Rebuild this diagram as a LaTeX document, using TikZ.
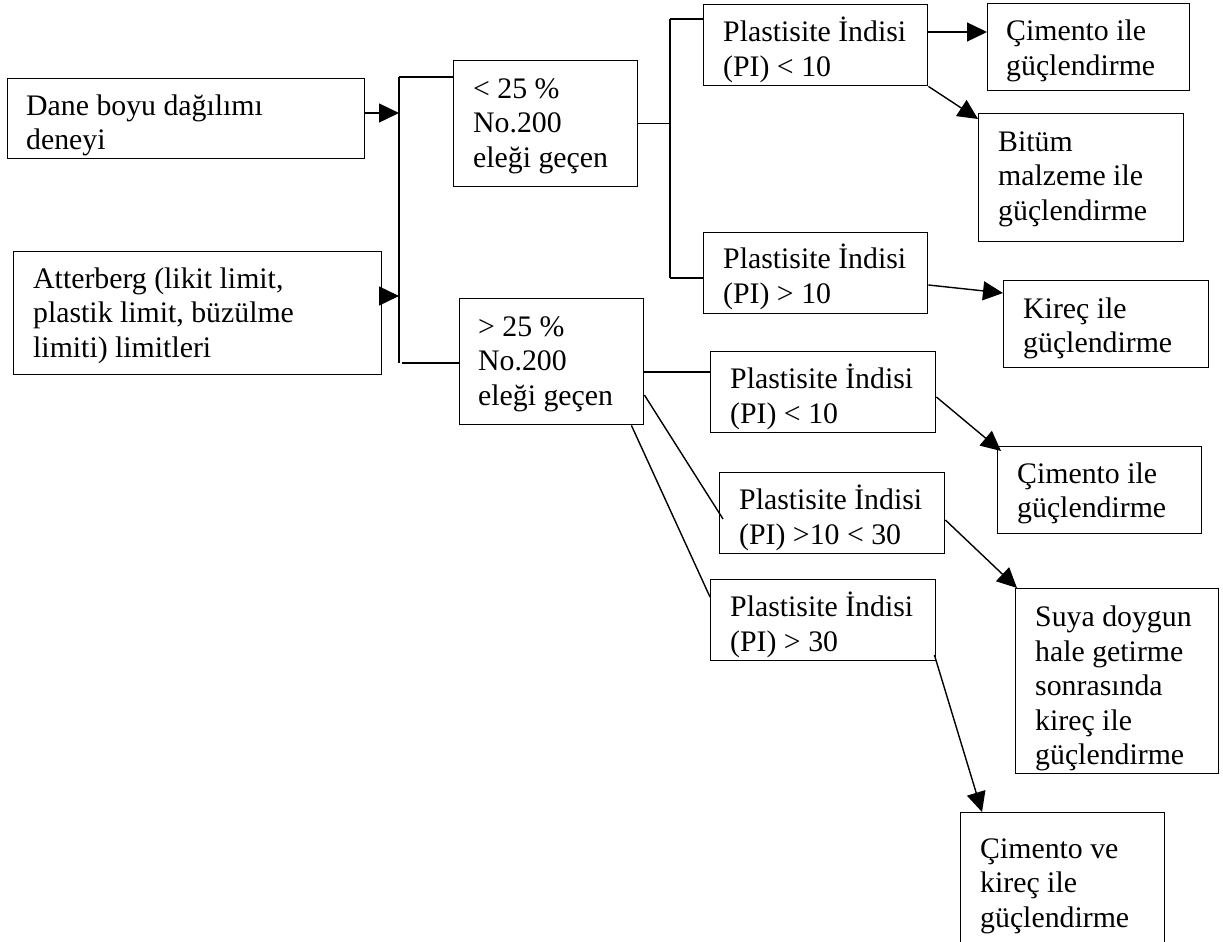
\documentclass[tikz,border=0pt]{standalone}
\usepackage{fontspec}
\setmainfont{Liberation Serif}
\usetikzlibrary{arrows.meta}
\tikzset{
  box/.style={draw, line width=1.4pt, inner sep=0pt, anchor=north west},
  txt/.style={anchor=north west, inner sep=0pt, align=left, font=\fontsize{29.8}{34.5}\selectfont},
  ln/.style={line width=1.4pt},
  arr/.style={line width=1.4pt, -{Triangle[length=20pt,width=19pt]}}
}
\newcommand{\fl}{\rule{0pt}{30pt}}
\begin{document}
\begin{tikzpicture}[x=1pt,y=-1pt]
\useasboundingbox (0,0) rectangle (1223,942);
\clip (0,0) rectangle (1223,942);
% boxes
\node[box, minimum width=357pt, minimum height=80pt]  (dane)  at (7,78) {};
\node[box, minimum width=368pt, minimum height=123pt] (att)   at (13,251) {};
\node[box, minimum width=184pt, minimum height=126pt] (lt25)  at (453,60) {};
\node[box, minimum width=184pt, minimum height=126pt] (gt25)  at (459,298) {};
\node[box, minimum width=224pt, minimum height=81pt]  (pi1)   at (703,4) {};
\node[box, minimum width=224pt, minimum height=81pt]  (pi2)   at (703,232) {};
\node[box, minimum width=225pt, minimum height=81pt]  (pi3)   at (710,351) {};
\node[box, minimum width=225pt, minimum height=81pt]  (pi4)   at (719,472) {};
\node[box, minimum width=225pt, minimum height=81pt]  (pi5)   at (710,579) {};
\node[box, minimum width=202pt, minimum height=87pt]  (cim1)  at (987,3) {};
\node[box, minimum width=205pt, minimum height=128pt] (bitum) at (978,113) {};
\node[box, minimum width=205pt, minimum height=87pt]  (kirec) at (1003,280) {};
\node[box, minimum width=204pt, minimum height=87pt]  (cim2)  at (997,446) {};
\node[box, minimum width=203pt, minimum height=185pt] (suya)  at (1015,588) {};
\node[box, minimum width=204pt, minimum height=160pt] (cimve) at (960,812) {};
% texts
\node[txt] (tdane)  at (26,85)    {\fl Dane boyu dağılımı\\deneyi};
\node[txt] (tatt)   at (33,258)   {\fl Atterberg (likit limit,\\plastik limit, büzülme\\limiti) limitleri};
\node[txt] (tlt25)  at (473,68)   {\fl < 25 \%\\No.200\\eleği geçen};
\node[txt] (tgt25)  at (478,306)  {\fl > 25 \%\\No.200\\eleği geçen};
\node[txt] (tpi1)   at (723,11.7) {\fl Plastisite İndisi\\(PI) < 10};
\node[txt] (tpi2)   at (723,238.3){\fl Plastisite İndisi\\(PI) > 10};
\node[txt] (tpi3)   at (730,358.3){\fl Plastisite İndisi\\(PI) < 10};
\node[txt] (tpi4)   at (739,479.3){\fl Plastisite İndisi\\(PI) >10 < 30};
\node[txt] (tpi5)   at (730,586.7){\fl Plastisite İndisi\\(PI) > 30};
\node[txt] (tcim1)  at (1006,10.7){\fl Çimento ile\\güçlendirme};
\node[txt] (tbitum) at (998,121)  {\fl Bitüm\\malzeme ile\\güçlendirme};
\node[txt] (tkirec) at (1023,288) {\fl Kireç ile\\güçlendirme};
\node[txt] (tcim2)  at (1017,453) {\fl Çimento ile\\güçlendirme};
\node[txt] (tsuya)  at (1035,596.7){\fl Suya doygun\\hale getirme\\sonrasında\\kireç ile\\güçlendirme};
\node[txt] (tcimve) at (980,828)  {\fl Çimento ve\\kireç ile\\güçlendirme};
% junction coordinates
\coordinate (j1) at (399,113);
\coordinate (j2) at (399,296);
\coordinate (b1t) at (399,77);
\coordinate (b1b) at (399,363);
\coordinate (b2t) at (670,19);
\coordinate (b2b) at (670,278);
\coordinate (a1) at (927,32);
\coordinate (g3) at ([yshift=-74pt]gt25.north east);
% connectors
\draw[arr] (dane.east |- j1) -- (j1);
\draw[arr] (att.east |- j2) -- (j2);
\draw[ln] (b1t) -- (b1b);
\draw[ln] (b1t) -- (lt25.west |- b1t);
\draw[ln] ([xshift=3pt]b1b) -- (gt25.west |- b1b);
\draw[ln] (lt25.east) -- (lt25.east -| b2t);
\draw[ln] (b2t) -- (b2b);
\draw[ln] (b2t) -- (pi1.west |- b2t);
\draw[ln] (b2b) -- (pi2.west |- b2b);
\draw[arr] (a1) -- (cim1.west |- a1);
\draw[arr] (pi1.south east) -- ([yshift=-6pt]bitum.north west);
\draw[arr] ([yshift=-53pt]pi2.north east) -- ([yshift=-13pt]kirec.north west);
\draw[ln] (g3) -- (pi3.west |- g3);
\draw[ln] ([yshift=-97pt]gt25.north east) -- ([xshift=4pt,yshift=-47pt]pi4.north west);
\draw[ln] ([xshift=-13pt]gt25.south east) -- ([yshift=-18pt]pi5.north west);
\draw[arr] ([yshift=-46pt]pi3.north east) -- ([xshift=4pt,yshift=-5pt]cim2.north west);
\draw[arr] ([yshift=-48pt]pi4.north east) -- ([xshift=2pt]suya.north west);
\draw[arr] ([xshift=-2pt,yshift=-76pt]pi5.north east) -- ([xshift=22pt]cimve.north west);
\end{tikzpicture}
\end{document}
